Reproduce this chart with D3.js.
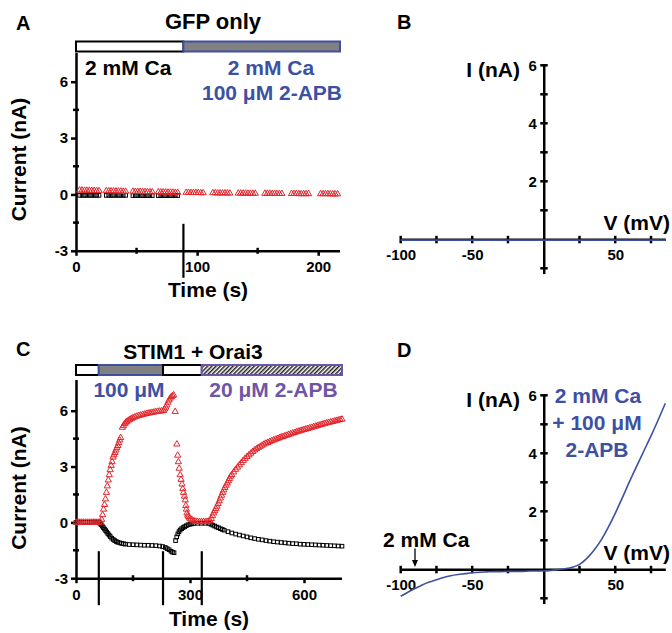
<!DOCTYPE html>
<html><head><meta charset="utf-8">
<script src="https://cdn.jsdelivr.net/npm/d3@7"></script>
<style>
body{margin:0;background:#fff}
text{font-family:"Liberation Sans",Arial,sans-serif;font-weight:bold}
</style></head><body>
<svg id="chart" width="672" height="633"></svg>
<script>
// ---------- DATA ----------
// Panel A (GFP only): time (s) and current (nA)
const timeA = [3,5,7,9,11,13,15,17,19, 25,27,29,31,33,35,37,39,41, 47,49,51,53,55,57,59,61,63,
  68,70,72,74,76,78,80,82,84, 91,93,95,97,99,101,103,105, 113,115,117,119,121,123,125,127,
  134,136,138,140,142,144,146,148, 156,158,160,162,164,166,168,170, 178,180,182,184,186,188,190,192,
  202,204,206,208,210,212,214,216];
const redA = [0.22,0.22,0.21,0.21,0.21,0.20,0.20,0.20,0.19, 0.19,0.18,0.18,0.18,0.17,0.17,0.17,0.16,0.16,
  0.16,0.15,0.15,0.15,0.14,0.14,0.14,0.13,0.13, 0.13,0.12,0.12,0.12,0.11,0.11,0.11,0.10,0.10,
  0.10,0.10,0.09,0.09,0.09,0.09,0.08,0.08, 0.08,0.08,0.07,0.07,0.07,0.07,0.07,0.06,
  0.06,0.06,0.06,0.06,0.05,0.05,0.05,0.05, 0.05,0.05,0.05,0.04,0.04,0.04,0.04,0.04,
  0.04,0.04,0.04,0.03,0.03,0.03,0.03,0.03, 0.03,0.03,0.03,0.03,0.02,0.02,0.02,0.02];
const timeBlackA = [3,5,7,9,11,13,15,17,19, 25,27,29,31,33,35,37,39,41, 47,49,51,53,55,57,59,61,63,
  68,70,72,74,76,78,80,82,84];
const blackA = [-0.05,-0.05,-0.05,-0.05,-0.05,-0.05,-0.05,-0.05,-0.05, -0.05,-0.05,-0.05,-0.05,-0.05,-0.05,-0.05,-0.05,-0.05,
  -0.06,-0.06,-0.06,-0.06,-0.06,-0.06,-0.06,-0.06,-0.06, -0.06,-0.06,-0.06,-0.06,-0.06,-0.06,-0.06,-0.06,-0.06];
const solStartA = [0, 88.7];
const solEndA = [88.7, 218];
const solTypeA = ["ctrl", "apb100"];
const markA = [88.7];

// Panel C (STIM1 + Orai3)
const timeRedC = [0,5,10,15,20,25,30,35,40,45,50,55,60,65,
  67.5,70,72.5,75,77.5,80,82.5,85,87.5,90,92.5,95,97.5,100,102.5,105,107.5,110,112.5,115,117.5,
  122,125,128,131,134,138,142,146,150,155,160,165,170,175,180,185,190,195,200,205,210,215,220,225,230,
  233,236,239,242,245,248,251,254,257,
  261,265.5,267.5,269.5,271.5,274,276.5,279,281,283,285.5,287.5,289,290.5,292,294,296,299,302,306,310,
  315,320,325,330,335,340,345,350,
  353,356,359,362,365,368,371,374,377,380,383,386,389,392,395,398,401,404,407,410,
  415,420,425,430,435,440,445,450,455,460,465,470,475,480,485,490,495,500,505,510,515,520,525,530,535,540,
  545,550,555,560,565,570,575,580,585,590,595,600,605,610,615,620,625,630,635,640,645,650,655,660,665,670,
  675,680,685,690,695,700];
const redC = [0,0,0,0,0,0,0,0,0,0,0,0,0,0,
  0.15,0.4,0.7,0.95,1.25,1.6,1.95,2.27,2.55,2.82,3.05,3.25,3.5,3.62,3.75,3.88,4.0,4.12,4.27,4.42,4.55,
  5.1,5.2,5.3,5.37,5.42,5.48,5.53,5.58,5.62,5.66,5.7,5.73,5.76,5.79,5.81,5.84,5.86,5.88,5.9,5.92,5.94,5.96,5.97,5.98,6.0,
  6.08,6.18,6.3,6.45,6.57,6.67,6.75,6.8,6.84,
  5.95,4.2,3.6,3.25,2.9,2.55,2.3,2.05,1.8,1.6,1.4,1.2,0.9,0.7,0.5,0.38,0.3,0.22,0.17,0.12,0.08,
  0.05,0.04,0.03,0.03,0.03,0.03,0.04,0.06,
  0.08,0.2,0.35,0.5,0.62,0.74,0.86,1.0,1.15,1.3,1.45,1.6,1.74,1.87,1.99,2.11,2.23,2.35,2.47,2.56,
  2.7,2.84,2.96,3.08,3.2,3.32,3.43,3.53,3.62,3.71,3.8,3.88,3.95,4.02,4.08,4.14,4.2,4.25,4.29,4.34,4.38,4.42,4.46,4.5,4.54,4.58,
  4.61,4.65,4.68,4.72,4.75,4.79,4.82,4.86,4.89,4.92,4.95,4.98,5.01,5.04,5.07,5.1,5.13,5.16,5.19,5.22,5.25,5.28,5.31,5.34,5.36,5.39,
  5.41,5.44,5.47,5.49,5.52,5.54];
const timeBlackC = [0,5,10,15,20,25,30,35,40,45,50,55,60,
  63,66,69,72,75,78,81,84,87,90,94,98,102,106,110,115,120,125,130,140,150,160,170,180,190,200,210,220,228,
  235,240,245,250,254,258,
  262,265,268,271,274,278,282,286,290,295,300,305,310,320,330,340,350,
  355,360,365,370,375,380,385,390,400,410,420,430,440,450,460,470,480,490,500,510,520,530,540,550,560,570,
  580,590,600,610,620,630,640,650,660,670,680,690,700];
const blackC = [0,0,0,0,0,0,0,0,0,0,0,0,0,
  -0.05,-0.12,-0.2,-0.28,-0.36,-0.44,-0.52,-0.6,-0.68,-0.76,-0.85,-0.92,-0.98,-1.03,-1.07,-1.1,-1.13,-1.15,-1.17,-1.19,-1.2,-1.21,-1.22,-1.23,-1.23,-1.24,-1.25,-1.27,-1.3,
  -1.35,-1.41,-1.47,-1.55,-1.6,-1.63,
  -0.98,-0.78,-0.62,-0.5,-0.41,-0.34,-0.28,-0.23,-0.18,-0.13,-0.1,-0.08,-0.06,-0.05,-0.05,-0.05,-0.06,
  -0.1,-0.15,-0.2,-0.25,-0.29,-0.34,-0.38,-0.42,-0.5,-0.57,-0.63,-0.68,-0.73,-0.78,-0.83,-0.87,-0.91,-0.94,-0.98,-1.01,-1.04,-1.06,-1.08,-1.1,-1.12,-1.14,
  -1.15,-1.17,-1.18,-1.19,-1.2,-1.21,-1.22,-1.23,-1.24,-1.25,-1.26,-1.27,-1.28];
const solStartC = [0, 60, 229, 331];
const solEndC = [60, 229, 331, 700];
const solTypeC = ["ctrl", "apb100", "ctrl", "apb20"];
const markC = [60, 229, 331];

// Panel B (GFP only I-V) and D (STIM1 + Orai3 I-V)
const voltB = [-100, -50, 0, 50, 85];
const currB = [-0.03, -0.03, -0.03, -0.03, -0.03];
const voltD = [-100,-95,-90,-85,-80,-75,-70,-65,-60,-55,-50,-45,-40,-35,-30,-25,-20,-15,-10,-5,0,5,10,15,20,25,30,35,40,45,50,55,60,65,70,75,80,85];
const currD = [-0.93,-0.79,-0.66,-0.54,-0.44,-0.36,-0.28,-0.22,-0.18,-0.15,-0.12,-0.10,-0.09,-0.08,-0.08,-0.07,-0.07,-0.07,-0.06,-0.06,-0.06,-0.04,-0.01,0.02,0.07,0.17,0.37,0.65,1.0,1.44,1.93,2.47,3.03,3.56,4.08,4.6,5.15,5.72];

// tick labels
const yTicksT = [-3, 0, 3, 6];
const yMinorT = [-1.5, 1.5, 4.5];
const xTicksA = [0, 100, 200];
const xMinorA = [50, 150];
const xTicksC = [0, 300, 600];
const xMinorC = [150, 450];
const yTicksIV = [2, 4, 6];
const yMinorIV = [-1, 1, 3, 5];
const xTicksIV = [-100, -50, 50];
const xMinorIV = [-75, -25, 25, 75];

// ---------- DRAWING ----------
const RED = "#e4262c", BLUE = "#3d51a3", PURPLE = "#6e56a7", GRAY = "#808080";
const fmt = d => String(d);
const svg = d3.select("#chart");
const defs = svg.append("defs");
const pat = defs.append("pattern").attr("id", "hatch").attr("patternUnits", "userSpaceOnUse")
  .attr("width", 3).attr("height", 3).attr("patternTransform", "rotate(45)");
pat.append("rect").attr("width", 3).attr("height", 3).attr("fill", "#fff");
pat.append("line").attr("x1", 0.75).attr("y1", 0).attr("x2", 0.75).attr("y2", 3).attr("stroke", "#222").attr("stroke-width", 1.5);

function txt(x, y, s, size, anchor, color) {
  return svg.append("text").attr("x", x).attr("y", y).text(s)
    .attr("font-size", size).attr("text-anchor", anchor || "start").attr("fill", color || "#000");
}

function styleAxis(g) {
  g.selectAll("path.domain").attr("stroke", "#000").attr("stroke-width", 2.5);
  g.selectAll(".tick line").attr("stroke", "#000").attr("stroke-width", 2.5);
  g.selectAll(".tick text").attr("font-size", 15).attr("fill", "#000")
    .attr("font-family", "Liberation Sans, Arial, sans-serif").attr("font-weight", "bold");
}

function timePanel(cfg) {
  const x = d3.scaleLinear().domain(cfg.xDomain).range(cfg.xRange);
  const y = d3.scaleLinear().domain([-3, 7.5]).range(cfg.yRange);
  const g = svg.append("g");
  const y0 = y(-3), x0 = x(0);
  const ya = g.append("g").attr("transform", `translate(${x0},0)`)
    .call(d3.axisLeft(y).tickValues(yTicksT).tickFormat(fmt).tickSize(5).tickSizeOuter(0).tickPadding(3));
  ya.select("path.domain").attr("d", `M0.5,${y0}V${cfg.yTop}`);
  styleAxis(ya);
  const xa = g.append("g").attr("transform", `translate(0,${y0})`)
    .call(d3.axisBottom(x).tickValues(cfg.xTicks).tickFormat(fmt).tickSize(5).tickSizeOuter(0).tickPadding(6));
  xa.select("path.domain").attr("d", `M${x0 - 1},0.5H${x(cfg.xDomain[1])}`);
  styleAxis(xa);
  g.selectAll(".ymin").data(yMinorT).enter().append("line")
    .attr("x1", x0 - 3).attr("x2", x0 + 3).attr("y1", d => y(d)).attr("y2", d => y(d))
    .attr("stroke", "#000").attr("stroke-width", 2.5);
  g.selectAll(".xmin").data(cfg.xMinor).enter().append("line")
    .attr("x1", d => x(d)).attr("x2", d => x(d)).attr("y1", y0 - 3).attr("y2", y0 + 3)
    .attr("stroke", "#000").attr("stroke-width", 2.5);
  const sol = cfg.solStart.map((s, i) => ({ s, e: cfg.solEnd[i], t: cfg.solType[i] }));
  g.selectAll(".bar").data(sol).enter().append("rect")
    .attr("x", d => x(d.s)).attr("width", d => x(d.e) - x(d.s))
    .attr("y", cfg.barY).attr("height", 10)
    .attr("fill", d => d.t === "ctrl" ? "#fff" : d.t === "apb100" ? GRAY : "url(#hatch)")
    .attr("stroke", d => d.t === "ctrl" ? "#000" : d.t === "apb100" ? BLUE : PURPLE)
    .attr("stroke-width", 2);
  g.selectAll(".mk").data(cfg.marks).enter().append("line")
    .attr("x1", d => x(d)).attr("x2", d => x(d)).attr("y1", y0 - 27).attr("y2", y0 + 27)
    .attr("stroke", "#000").attr("stroke-width", 2.2);
  const bl = cfg.tBlack.map((t, i) => [t, cfg.black[i]]);
  g.selectAll(".sq").data(bl).enter().append("rect")
    .attr("x", d => x(d[0]) - 1.8).attr("y", d => y(d[1]) - 1.8)
    .attr("width", 3.6).attr("height", 3.6)
    .attr("fill", "none").attr("stroke", "#000").attr("stroke-width", 1);
  const rd = cfg.tRed.map((t, i) => [t, cfg.red[i]]);
  const tri = d3.symbol().type(d3.symbolTriangle).size(17);
  g.selectAll(".tri").data(rd).enter().append("path")
    .attr("d", tri).attr("transform", d => `translate(${x(d[0])},${y(d[1])})`)
    .attr("fill", "none").attr("stroke", RED).attr("stroke-width", 1);
  return { x, y };
}

// Panel A
const pA = timePanel({
  xDomain: [0, 218], xRange: [76, 340], yRange: [250.8, 53.5], yTop: 53,
  xTicks: xTicksA, xMinor: xMinorA, barY: 41.5,
  solStart: solStartA, solEnd: solEndA, solType: solTypeA, marks: markA,
  tRed: timeA, red: redA, tBlack: timeBlackA, black: blackA
});
txt(16, 30, "A", 20);
txt(213, 28.5, "GFP only", 22, "middle");
txt(85, 75, "2 mM Ca", 21);
txt(271, 75, "2 mM Ca", 21, "middle", BLUE);
txt(272, 100, "100 μM 2-APB", 21, "middle", BLUE);
svg.append("text").attr("transform", "translate(26,159.5) rotate(-90)")
  .attr("text-anchor", "middle").attr("font-size", 21).text("Current (nA)");
txt(208, 296.5, "Time (s)", 21, "middle");

// Panel C
const pC = timePanel({
  xDomain: [0, 700], xRange: [76, 342], yRange: [578.2, 382.8], yTop: 380,
  xTicks: xTicksC, xMinor: xMinorC, barY: 365,
  solStart: solStartC, solEnd: solEndC, solType: solTypeC, marks: markC,
  tRed: timeRedC, red: redC, tBlack: timeBlackC, black: blackC
});
txt(16, 356, "C", 20);
txt(193, 358.5, "STIM1 + Orai3", 21, "middle");
txt(129, 396.5, "100 μM", 21, "middle", BLUE);
txt(273.5, 396.5, "20 μM 2-APB", 21, "middle", PURPLE);
svg.append("text").attr("transform", "translate(26,488) rotate(-90)")
  .attr("text-anchor", "middle").attr("font-size", 21).text("Current (nA)");
txt(209, 626, "Time (s)", 21, "middle");

// I-V panels
function ivPanel(cfg) {
  const x = d3.scaleLinear().domain([-100, 85]).range([400.7, 665.3]);
  const y = d3.scaleLinear().domain([-1.2, 6]).range([cfg.y0 + 34.8, cfg.y0 - 174]);
  const g = svg.append("g");
  const xa = g.append("g").attr("transform", `translate(0,${y(0)})`)
    .call(d3.axisBottom(x).tickValues(xTicksIV).tickFormat(fmt).tickSize(0).tickSizeOuter(0).tickPadding(10));
  styleAxis(xa);
  const ya = g.append("g").attr("transform", `translate(${x(0)},0)`)
    .call(d3.axisLeft(y).tickValues(yTicksIV).tickFormat(fmt).tickSize(0).tickSizeOuter(0).tickPadding(7));
  ya.select("path.domain").attr("d", `M0.5,${y(-1.2)}V${y(6) - 1}`);
  styleAxis(ya);
  g.selectAll(".yt").data(yTicksIV.concat(yMinorIV)).enter().append("line")
    .attr("x1", x(0) - 3.5).attr("x2", x(0) + 4).attr("y1", d => y(d)).attr("y2", d => y(d))
    .attr("stroke", "#000").attr("stroke-width", 2.5);
  g.selectAll(".xt").data(xTicksIV.concat(xMinorIV)).enter().append("line")
    .attr("x1", d => x(d)).attr("x2", d => x(d)).attr("y1", y(0) - 3.5).attr("y2", y(0) + 4)
    .attr("stroke", "#000").attr("stroke-width", 2.5);
  const line = d3.line().x(d => x(d[0])).y(d => y(d[1])).curve(d3.curveMonotoneX);
  g.append("path").datum(cfg.v.map((v, i) => [v, cfg.i[i]]))
    .attr("d", line).attr("fill", "none").attr("stroke", BLUE).attr("stroke-width", 1.6);
  txt(520, y(6) + 11.3, "I (nA)", 21, "end");
  txt(670, y(0) - 9.5, "V (mV)", 21, "end");
  return { x, y };
}
const pB = ivPanel({ y0: 239.3, v: voltB, i: currB });
txt(397, 29, "B", 20);

const pD = ivPanel({ y0: 569.3, v: voltD, i: currD });
txt(397, 357, "D", 20);
txt(383, 546.7, "2 mM Ca", 21);
txt(598, 403.3, "2 mM Ca", 21, "middle", BLUE);
txt(597, 430, "+ 100 μM", 21, "middle", BLUE);
txt(597, 456.7, "2-APB", 21, "middle", BLUE);
const ax = pD.x(-90);
svg.append("line").attr("x1", ax).attr("x2", ax).attr("y1", 548.5).attr("y2", 561)
  .attr("stroke", "#000").attr("stroke-width", 1.3);
svg.append("path").attr("d", `M${ax - 3},560 L${ax + 3},560 L${ax},567 Z`).attr("fill", "#000");
</script>
</body></html>
